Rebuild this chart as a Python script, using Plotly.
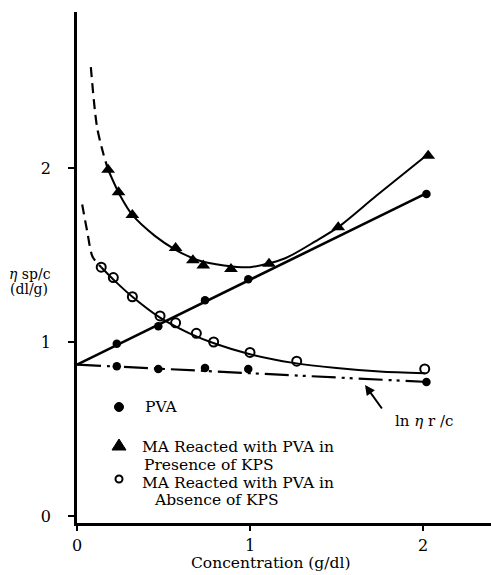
import plotly.graph_objects as go

# ---- data (concentration in g/dl, viscosity in dl/g) ----
pva_x = [0.23, 0.47, 0.74, 0.99, 2.02]
pva_sp = [0.99, 1.09, 1.24, 1.36, 1.85]
pva_ln = [0.86, 0.845, 0.85, 0.845, 0.77]

pva_sp_line_x = [0.0, 2.03]
pva_sp_line_y = [0.87, 1.86]
pva_ln_line_x = [0.0, 2.03]
pva_ln_line_y = [0.87, 0.77]

pres_x = [0.18, 0.24, 0.32, 0.57, 0.67, 0.73, 0.89, 1.11, 1.51, 2.03]
pres_y = [1.99, 1.86, 1.73, 1.54, 1.47, 1.44, 1.42, 1.45, 1.66, 2.07]
pres_curve_x = [0.18, 0.25, 0.32, 0.45, 0.57, 0.70, 0.85, 1.00, 1.20, 1.38, 1.51, 1.73, 2.03]
pres_curve_y = [1.99, 1.84, 1.73, 1.61, 1.53, 1.47, 1.44, 1.43, 1.48, 1.58, 1.66, 1.84, 2.08]
pres_extrap_x = [0.08, 0.115, 0.15, 0.18]
pres_extrap_y = [2.58, 2.24, 2.09, 1.99]

abs_x = [0.14, 0.21, 0.32, 0.48, 0.57, 0.69, 0.79, 1.00, 1.27, 2.01]
abs_y = [1.43, 1.37, 1.26, 1.15, 1.11, 1.05, 1.00, 0.94, 0.89, 0.845]
abs_curve_x = [0.14, 0.22, 0.32, 0.48, 0.65, 0.80, 1.00, 1.25, 1.50, 1.75, 2.01]
abs_curve_y = [1.43, 1.35, 1.26, 1.14, 1.05, 0.99, 0.93, 0.88, 0.85, 0.83, 0.82]
abs_extrap_x = [0.03, 0.06, 0.09, 0.14]
abs_extrap_y = [1.79, 1.63, 1.49, 1.43]

x_ticks = [0, 1, 2]
y_ticks = [0, 1, 2]

# ---- page geometry ----
W, H = 491, 575
L, T, B = 77, 12, 52
PW, PH = W - L, H - T - B
X_PER_UNIT = 173.0
Y_PER_UNIT = 174.0
Y0_PX = 516.0
x_range = [0, PW / X_PER_UNIT]
y_range = [(Y0_PX - (H - B)) / Y_PER_UNIT, (Y0_PX - T) / Y_PER_UNIT]


def paper_x(px):
    return (px - L) / PW


def paper_y(py):
    return (H - B - py) / PH


FONT = "DejaVu Serif"
INK = "black"

fig = go.Figure()


def line(x, y, width=2.0, dash="solid", shape="spline"):
    fig.add_trace(go.Scatter(x=x, y=y, mode="lines", showlegend=False,
                             hoverinfo="skip",
                             line=dict(color=INK, width=width, dash=dash,
                                       shape=shape, smoothing=0.8)))


# PVA: reduced viscosity line and inherent viscosity line
line(pva_sp_line_x, pva_sp_line_y, width=2.6, shape="linear")
line(pva_ln_line_x, pva_ln_line_y, width=2.2,
     dash="24px,6px,3px,5px,3px,6px", shape="linear")

# MA with PVA in presence of KPS
line(pres_curve_x, pres_curve_y, width=2.0)
line(pres_extrap_x, pres_extrap_y, width=2.2, dash="10px,6px")

# MA with PVA in absence of KPS
line(abs_curve_x, abs_curve_y, width=2.0)
line(abs_extrap_x, abs_extrap_y, width=2.2, dash="10px,6px")

fig.add_trace(go.Scatter(x=pva_x, y=pva_sp, mode="markers", showlegend=False,
                         marker=dict(symbol="circle", size=8.5, color=INK)))
fig.add_trace(go.Scatter(x=pva_x, y=pva_ln, mode="markers", showlegend=False,
                         marker=dict(symbol="circle", size=8.5, color=INK)))
fig.add_trace(go.Scatter(x=pres_x, y=pres_y, mode="markers", showlegend=False,
                         marker=dict(symbol="triangle-up", size=12, color=INK)))
fig.add_trace(go.Scatter(x=abs_x, y=abs_y, mode="markers", showlegend=False,
                         marker=dict(symbol="circle-open", size=9, color=INK,
                                     line=dict(width=2, color=INK))))

annotations = []


def text(px, py, s, anchor="left", size=16, align="left"):
    annotations.append(dict(x=paper_x(px), y=paper_y(py), xref="paper",
                            yref="paper", text=s, showarrow=False,
                            xanchor=anchor, yanchor="middle", align=align,
                            font=dict(family=FONT, size=size, color=INK)))


# legend block
mark_px = 119
LEG = 15.5
text(143, 407, "PVA", size=LEG)
text(140, 447, "MA Reacted with PVA in", size=LEG)
text(142, 465, "Presence of KPS", size=LEG)
text(140, 483, "MA Reacted with PVA in", size=LEG)
text(152, 500, "Absence of KPS", size=LEG)


def marker_shape(py, **kw):
    d = dict(xref="paper", yref="paper", xsizemode="pixel", ysizemode="pixel",
             xanchor=paper_x(mark_px), yanchor=paper_y(py))
    d.update(kw)
    return d


shapes = [
    marker_shape(407, type="circle", x0=-4.5, x1=4.5, y0=-4.5, y1=4.5,
                 fillcolor=INK, line=dict(color=INK, width=1)),
    marker_shape(445, type="path", path="M -7,-5 L 7,-5 L 0,6 Z",
                 fillcolor=INK, line=dict(color=INK, width=1)),
    marker_shape(479, type="circle", x0=-3.5, x1=3.5, y0=-3.5, y1=3.5,
                 fillcolor="white", line=dict(color=INK, width=2)),
]

# inherent viscosity label with pointer
text(393, 421, "ln <i>η</i> r /c", size=15)
annotations.append(dict(x=paper_x(365), y=paper_y(385), xref="paper",
                        yref="paper", axref="pixel", ayref="pixel",
                        ax=18, ay=25, text="", showarrow=True, arrowhead=2,
                        arrowsize=1, arrowwidth=2, arrowcolor=INK))

# axis titles
text(7, 274, "<i>η</i> sp/c", size=14)
text(8, 289, "(dl/g)", size=14)
text(270, 563, "Concentration (g/dl)", anchor="center", size=15.5)

fig.update_layout(
    width=W, height=H,
    margin=dict(l=L, r=0, t=T, b=B, pad=0),
    paper_bgcolor="white", plot_bgcolor="white",
    showlegend=False,
    font=dict(family=FONT, size=16, color=INK),
    annotations=annotations,
    shapes=shapes,
    xaxis=dict(range=x_range, tickvals=x_ticks, ticks="outside", ticklen=5,
               tickwidth=2, tickcolor=INK, showline=True, linewidth=2.5,
               linecolor=INK, showgrid=False, zeroline=False,
               ticklabelstandoff=1),
    yaxis=dict(range=y_range, tickvals=y_ticks, ticks="outside", ticklen=6,
               tickwidth=2, tickcolor=INK, showline=True, linewidth=2.5,
               linecolor=INK, showgrid=False, zeroline=False,
               ticklabelstandoff=14),
)

fig.write_html("out.html")
